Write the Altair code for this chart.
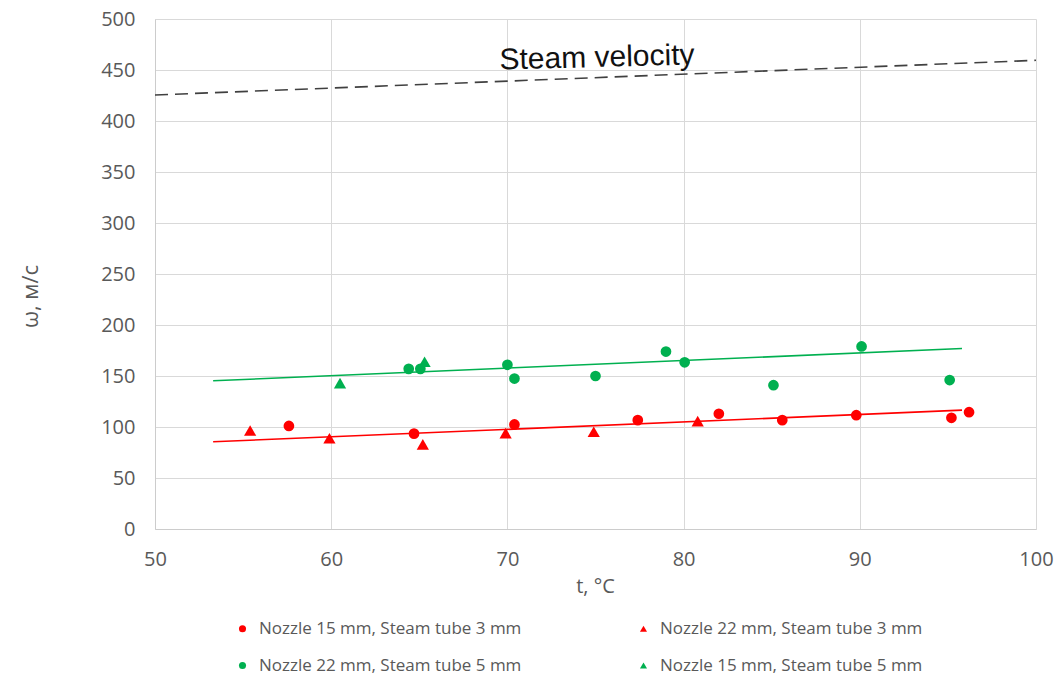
import altair as alt
import pandas as pd

# --- data ---
series_names = [
    "Nozzle 15 mm, Steam tube 3 mm",
    "Nozzle 22 mm, Steam tube 3 mm",
    "Nozzle 22 mm, Steam tube 5 mm",
    "Nozzle 15 mm, Steam tube 5 mm",
]
s1_t = [57.6, 64.7, 70.4, 77.4, 82.0, 85.6, 89.8, 95.2, 96.2]
s1_w = [101, 93.5, 102.5, 106.7, 113, 106.7, 111.6, 109, 114.5]
s2_t = [55.4, 59.9, 65.2, 69.9, 74.9, 80.8]
s2_w = [96.5, 89, 83, 94, 95.4, 105.8]
s3_t = [64.4, 65.06, 70.0, 70.4, 75.0, 79.0, 80.06, 85.1, 90.1, 95.1]
s3_w = [157, 157, 161, 147.5, 150, 174, 163.4, 141, 179, 146]
s4_t = [60.5, 65.3]
s4_w = [143, 164]

trend_red_t = [53.3, 95.8]
trend_red_w = [85.5, 116.5]
trend_green_t = [53.3, 95.8]
trend_green_w = [145.3, 177.0]
steam_t = [50, 100]
steam_w = [425.5, 459.5]
label_t = [75.1]
label_w = [453]
label_text = ["Steam velocity"]

colors = ["#FF0000", "#FF0000", "#00B050", "#00B050"]
shapes = ["circle", "triangle-up", "circle", "triangle-up"]

rows = []
for name, shp, ts, ws in zip(series_names, shapes, [s1_t, s2_t, s3_t, s4_t], [s1_w, s2_w, s3_w, s4_w]):
    for t, w in zip(ts, ws):
        rows.append({"t": t, "w": w, "series": name, "kind": shp})
pts = pd.DataFrame(rows)

red_df = pd.DataFrame({"t": trend_red_t, "w": trend_red_w})
green_df = pd.DataFrame({"t": trend_green_t, "w": trend_green_w})
steam_df = pd.DataFrame({"t": steam_t, "w": steam_w})
lab_df = pd.DataFrame({"t": label_t, "w": label_w, "txt": label_text})

xscale = alt.Scale(domain=[50, 100], nice=False, zero=False)
yscale = alt.Scale(domain=[0, 500], nice=False)

FONT = "Open Sans"
GRAY = "#595959"

xax = alt.Axis(
    values=[50, 60, 70, 80, 90, 100], title="t, °C", grid=True, gridColor="#d9d9d9",
    domainColor="#cccccc", ticks=False, labelFont=FONT, labelFontSize=20, labelColor=GRAY,
    labelPadding=20, labelFlush=False, titleFont=FONT, titleFontSize=20, titleColor=GRAY,
    titleFontWeight="normal", titleBaseline="middle", titleY=57, titleX=440,
)
yax = alt.Axis(
    values=[0, 50, 100, 150, 200, 250, 300, 350, 400, 450, 500], title="ω, м/с", grid=True,
    gridColor="#d9d9d9", domainColor="#cccccc", ticks=False, labelFont=FONT, labelFontSize=20,
    labelColor=GRAY, labelPadding=20, labelFlush=False, titleFont=FONT, titleFontSize=22,
    titleColor=GRAY, titleFontWeight="normal", titleAngle=270, titleBaseline="middle",
    titleAlign="center", titleX=-125, titleY=277,
)

legend = alt.Legend(title=None, orient="none", legendX=79, legendY=601,
                    columns=2, columnPadding=113, rowPadding=19,
                    direction="horizontal",
                    symbolSize=50, labelFont=FONT, labelFontSize=17,
                    labelColor=GRAY, labelLimit=400, padding=0,
                    labelOffset=8, symbolStrokeWidth=0)

enc = dict(
    x=alt.X("t:Q", scale=xscale, axis=xax),
    y=alt.Y("w:Q", scale=yscale, axis=yax),
    color=alt.Color("series:N", scale=alt.Scale(domain=series_names, range=colors), legend=legend),
    shape=alt.Shape("series:N", scale=alt.Scale(domain=series_names, range=shapes), legend=legend),
)

circles = alt.Chart(pts).transform_filter(alt.datum.kind == "circle").mark_point(
    filled=True, opacity=1, size=115).encode(**enc)
triangles = alt.Chart(pts).transform_filter(alt.datum.kind == "triangle-up").mark_point(
    filled=True, opacity=1, size=150).encode(**enc)

red_line = alt.Chart(red_df).mark_line(color="#FF0000", strokeWidth=1.6).encode(
    x=alt.X("t:Q", scale=xscale), y=alt.Y("w:Q", scale=yscale))
green_line = alt.Chart(green_df).mark_line(color="#00B050", strokeWidth=1.6).encode(
    x=alt.X("t:Q", scale=xscale), y=alt.Y("w:Q", scale=yscale))
steam_line = alt.Chart(steam_df).mark_line(color="#404040", strokeWidth=1.6, strokeDash=[13, 7]).encode(
    x=alt.X("t:Q", scale=xscale), y=alt.Y("w:Q", scale=yscale))
label = alt.Chart(lab_df).mark_text(
    font="Liberation Sans", fontSize=30, color="#111111", align="center", baseline="alphabetic",
    angle=358.5,
).encode(x=alt.X("t:Q", scale=xscale), y=alt.Y("w:Q", scale=yscale), text="txt:N")

chart = alt.layer(steam_line, green_line, red_line, circles, triangles, label).properties(
    width=881, height=510,
    autosize=alt.AutoSizeParams(type="none"),
    padding={"left": 155, "top": 19, "right": 23, "bottom": 148},
    background="white",
).configure_view(stroke=None)

chart.save("out.html", embed_options={"renderer": "svg", "actions": False})
